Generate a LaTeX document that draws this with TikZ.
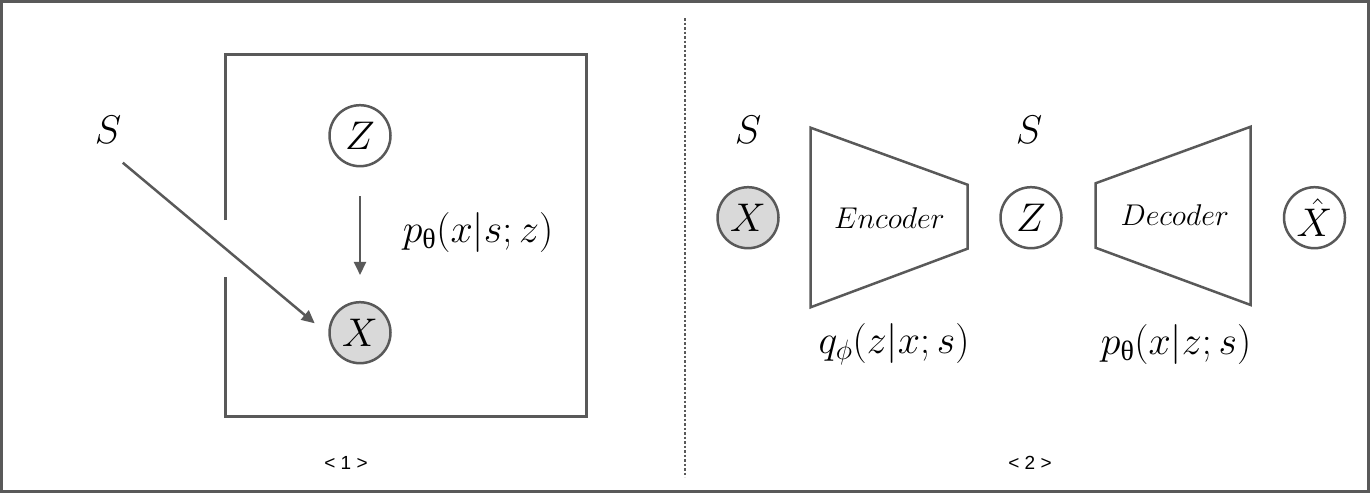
\RequirePackage{fix-cm}
\documentclass[tikz,border=0pt]{standalone}
\usepackage{amsmath}
\usepackage{fontspec}
\newfontfamily\grk{Liberation Serif}
\newfontfamily\lab{Liberation Sans}
\usetikzlibrary{arrows.meta}
\definecolor{ln}{HTML}{595959}
\definecolor{obs}{HTML}{D9D9D9}
\begin{document}
\begin{tikzpicture}[x=1pt,y=-1pt,
  var/.style={circle, draw=ln, line width=2.5pt, minimum size=61pt, inner sep=0pt, font=\fontsize{40}{40}\selectfont},
  obsvar/.style={var, fill=obs},
  lbl/.style={inner sep=0pt, font=\fontsize{40}{40}\selectfont},
  blk/.style={inner sep=0pt, font=\fontsize{30}{30}\selectfont},
  arr/.style={draw=ln, line width=2.5pt, -{Triangle[length=13pt,width=12pt]}},
  trap/.style={draw=ln, line width=2.5pt, line join=miter},
  tag/.style={inner sep=0pt, font=\lab\fontsize{19}{19}\selectfont}]
\useasboundingbox (0,0) rectangle (1370,493);
\draw[ln, line width=3pt] (1.5,1.5) rectangle (1368.5,491.5);
\draw[ln, line width=2.5pt, dash pattern=on 2.5pt off 2pt] (685,18) -- (685,477);

% panel 1
\draw[ln, line width=3pt] (225.5,220) -- (225.5,54.5) -- (586.5,54.5) -- (586.5,416) -- (225.5,416) -- (225.5,277);
\node[var] (z1) at (360,135.7) {$Z$};
\node[obsvar] (x1) at (360,332.7) {$X$};
\node[lbl] (s1) at (108,130) {$S$};
\coordinate (sa) at (122.8,162.7);
\coordinate (sb) at (314.7,323.3);
\draw[arr] (sa) -- (sb);
\draw[arr, shorten <=29pt, shorten >=26pt] (z1) -- (x1);
\node[lbl] (p1) at (478,232) {$p_{\text{\grk θ}}(x|s;z)$};
\node[tag] (t1) at (346,463) {< 1 >};

% panel 2
\node[obsvar] (x2) at (748,217.7) {$X$};
\node[lbl] (s2) at (748,130) {$S$};
\coordinate (e1) at (810.6,127.7);
\coordinate (e2) at (967.5,184.7);
\coordinate (e3) at (967.5,248.7);
\coordinate (e4) at (810.6,307.3);
\draw[trap] (e1) -- (e2) -- (e3) -- (e4) -- cycle;
\node[blk] (enc) at (889.5,218) {$Encoder$};
\node[var] (z2) at (1031,217.7) {$Z$};
\node[lbl] (s3) at (1029,130) {$S$};
\coordinate (d1) at (1095.5,183.3);
\coordinate (d2) at (1250.7,126.7);
\coordinate (d3) at (1250.7,305);
\coordinate (d4) at (1095.5,247.7);
\draw[trap] (d1) -- (d2) -- (d3) -- (d4) -- cycle;
\node[blk] (dec) at (1174.8,215) {$Decoder$};
\node[var] (xh) at (1314.5,217.7) {$\hat{X}$};
\node[lbl] (q) at (894,344) {$q_{\phi}(z|x;s)$};
\node[lbl] (p2) at (1176,344) {$p_{\text{\grk θ}}(x|z;s)$};
\node[tag] (t2) at (1030,463) {< 2 >};
\end{tikzpicture}
\end{document}
